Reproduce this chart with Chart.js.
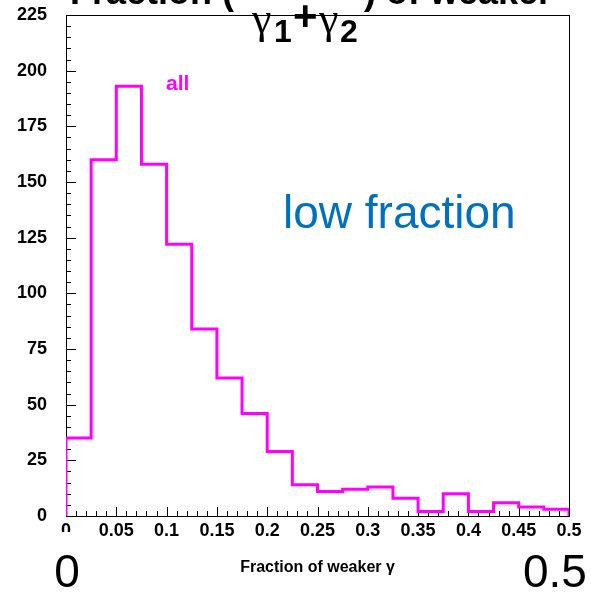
<!DOCTYPE html>
<html>
<head>
<meta charset="utf-8">
<script src="https://cdn.jsdelivr.net/npm/chart.js@4.4.0/dist/chart.umd.min.js"></script>
<style>
  body { margin: 0; background: #fff; }
  #wrap { width: 591px; height: 593px; }
</style>
</head>
<body>
<div id="wrap"><canvas id="grafico" width="591" height="593"></canvas></div>
<script>
// histogram bins (lower edges) and entries per bin
const binLow = [0, 0.025, 0.05, 0.075, 0.1, 0.125, 0.15, 0.175, 0.2, 0.225,
                0.25, 0.275, 0.3, 0.325, 0.35, 0.375, 0.4, 0.425, 0.45, 0.475];
const binWidth = 0.025;
const counts = [35, 160, 193, 158, 122, 84, 62, 46, 29, 14,
                11, 12, 13, 8, 2, 10, 2, 6, 4, 3];

// labelled ticks
const yLabels = [0, 25, 50, 75, 100, 125, 150, 175, 200, 225];
const xLabels = [0, 0.05, 0.1, 0.15, 0.2, 0.25, 0.3, 0.35, 0.4, 0.45, 0.5];

const SANS = "'Liberation Sans', Arial, sans-serif";
Chart.defaults.font.family = SANS;
Chart.defaults.color = '#000';

// step outline: start at zero, one point per bin, back to zero at the end
const outline = [{x: binLow[0], y: 0}];
binLow.forEach((lo, i) => outline.push({x: lo, y: counts[i]}));
outline.push({x: binLow[binLow.length - 1] + binWidth, y: 0});

function isLabelled(v, list) {
    return list.some(l => Math.abs(l - v) < 1e-9);
}

// frame + inward tick marks (long on labelled values, short otherwise)
const frameTicks = {
    id: 'frameTicks',
    beforeDatasetsDraw(chart) {
        const {ctx, chartArea: a, scales: {x, y}} = chart;
        ctx.save();
        ctx.strokeStyle = '#000';
        ctx.lineWidth = 1;
        ctx.beginPath();
        x.ticks.forEach(t => {
            const px = Math.round(x.getPixelForValue(t.value)) + 0.5;
            const len = isLabelled(t.value, xLabels) ? 9 : 5;
            ctx.moveTo(px, a.bottom);
            ctx.lineTo(px, a.bottom - len);
        });
        y.ticks.forEach(t => {
            const py = Math.round(y.getPixelForValue(t.value)) + 0.5;
            const len = isLabelled(t.value, yLabels) ? 10 : 5;
            ctx.moveTo(a.left, py);
            ctx.lineTo(a.left + len, py);
        });
        ctx.stroke();
        ctx.strokeRect(a.left + 0.5, a.top + 0.5, a.right - a.left, a.bottom - a.top);
        ctx.restore();
    }
};

// title, labels and the big range markers under the axis
const annotations = {
    id: 'annotations',
    afterDraw(chart) {
        const ctx = chart.ctx;
        ctx.save();
        ctx.textBaseline = 'alphabetic';

        // title (partly cut off at the top)
        ctx.fillStyle = '#000';
        ctx.font = 'bold 36px ' + SANS;
        ctx.textAlign = 'right';
        ctx.fillText('Fraction (', 234, 4);
        ctx.textAlign = 'left';
        ctx.fillText(') of weaker', 364, 4);

        // gamma_1 + gamma_2
        ctx.font = '44px "Liberation Serif", serif';
        ctx.fillText('\u03b3', 252, 33);
        ctx.fillText('\u03b3', 319, 33);
        ctx.font = 'bold 32px ' + SANS;
        ctx.fillText('1', 274, 42);
        ctx.fillText('2', 340, 42);
        ctx.font = 'bold 42px ' + SANS;
        ctx.fillText('+', 293, 30);

        // series tag
        ctx.fillStyle = '#ff00ff';
        ctx.font = 'bold 21px ' + SANS;
        ctx.fillText('all', 166, 90);

        // blue note
        ctx.fillStyle = '#0070c0';
        ctx.font = '46px ' + SANS;
        ctx.fillText('low fraction', 283, 228);

        // big range markers
        ctx.fillStyle = '#fff';
        ctx.fillRect(40, 532, 55, 61);
        ctx.fillStyle = '#000';
        ctx.font = '46px ' + SANS;
        ctx.textAlign = 'center';
        ctx.fillText('0', 67, 587);
        ctx.textAlign = 'left';
        ctx.fillText('0.5', 523, 587);
        ctx.restore();
    }
};

const grafico = document.getElementById('grafico').getContext('2d');
const myChart = new Chart(grafico, {
    type: 'line',
    data: {
        datasets: [{
            label: 'all',
            data: outline,
            stepped: 'before',
            borderColor: '#ff00ff',
            borderWidth: 3,
            pointRadius: 0,
            fill: false
        }]
    },
    options: {
        responsive: false,
        animation: false,
        layout: { autoPadding: false, padding: { top: 15, right: 22, left: 0, bottom: 0 } },
        plugins: {
            legend: { display: false },
            tooltip: { enabled: false }
        },
        scales: {
            x: {
                type: 'linear',
                min: 0,
                max: 0.5,
                afterFit: (scale) => { scale.height = 77; },
                grid: { drawOnChartArea: false, drawTicks: false },
                border: { display: false },
                ticks: {
                    stepSize: 0.01,
                    autoSkip: false,
                    maxRotation: 0,
                    padding: 4,
                    font: { size: 18, weight: 'bold' },
                    callback: (v) => isLabelled(v, xLabels) ? String(Math.round(v * 100) / 100) : ''
                },
                title: {
                    display: true,
                    text: 'Fraction of weaker \u03b3',
                    font: { size: 16, weight: 'bold' },
                    padding: { top: 0, bottom: 16 }
                }
            },
            y: {
                min: 0,
                max: 225,
                // fixed axis width, and no extra room for the top label
                afterFit: (scale) => {
                    scale.width = 66;
                    scale.paddingTop = 0;
                    scale.paddingBottom = 0;
                },
                grid: { drawOnChartArea: false, drawTicks: false },
                border: { display: false },
                ticks: {
                    stepSize: 5,
                    autoSkip: false,
                    padding: 19,
                    font: { size: 18, weight: 'bold' },
                    callback: (v) => isLabelled(v, yLabels) ? String(v) : ''
                }
            }
        }
    },
    plugins: [frameTicks, annotations]
});
</script>
</body>
</html>
